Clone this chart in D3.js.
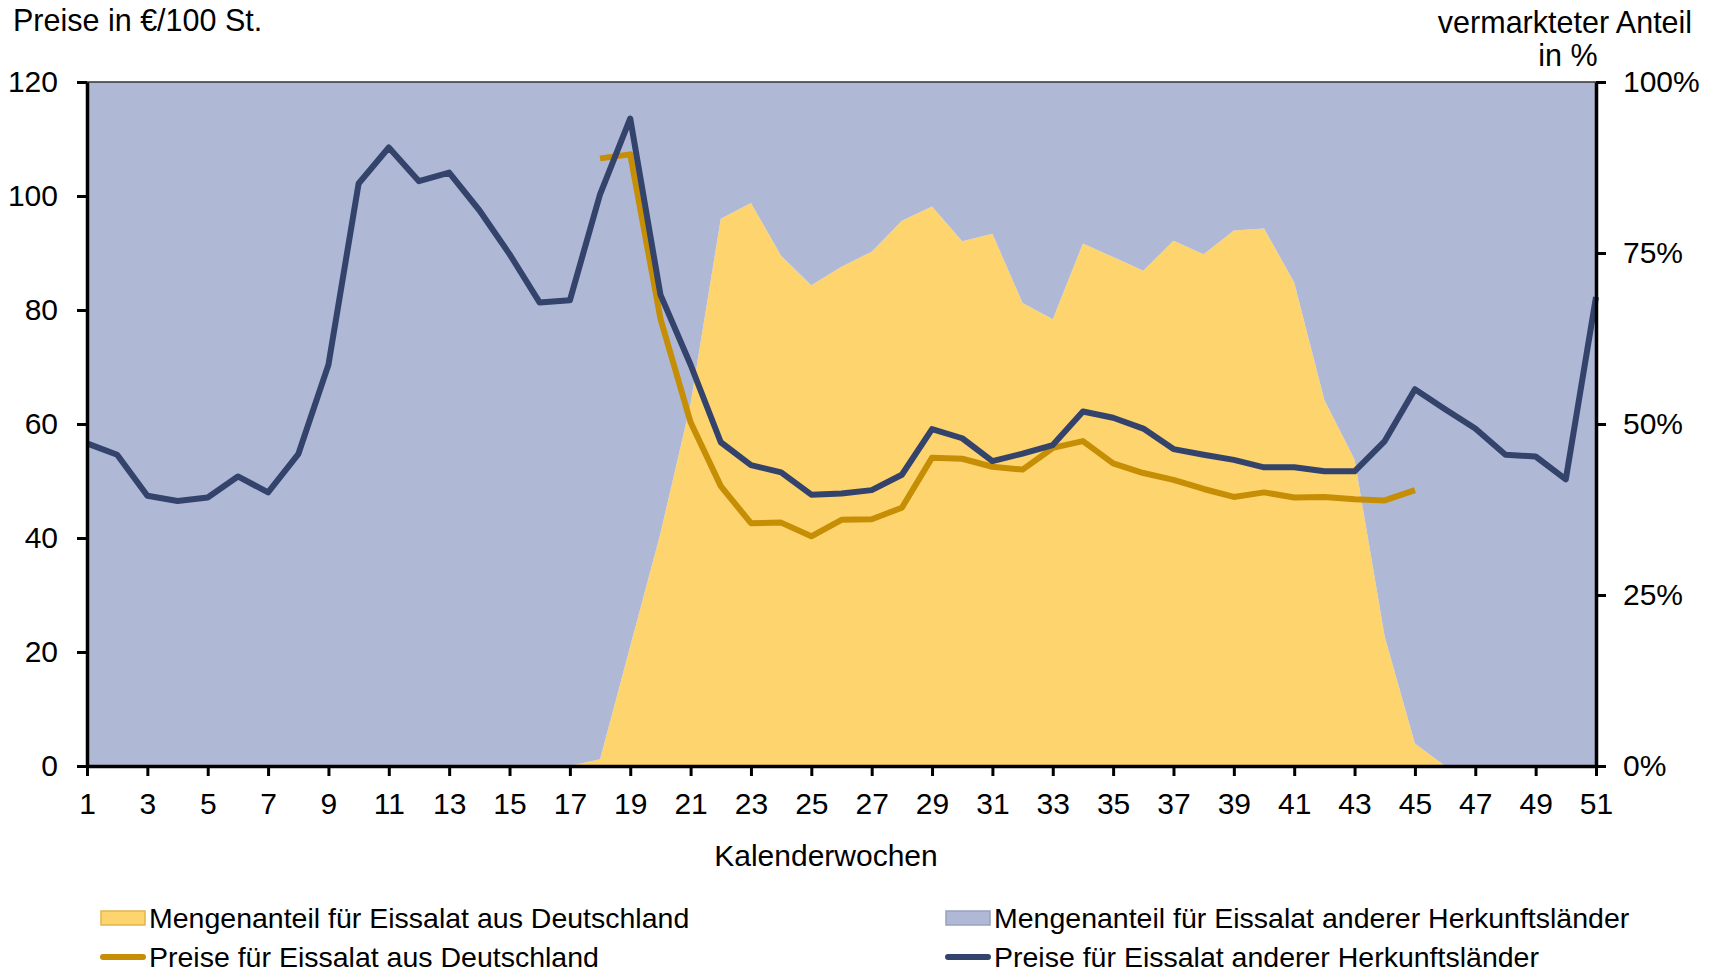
<!DOCTYPE html>
<html>
<head>
<meta charset="utf-8">
<script src="https://cdn.jsdelivr.net/npm/d3@7"></script>
<style>
    body { margin: 0; background: #fff; }
    text { font-family: "Liberation Sans", Arial, sans-serif; fill: #000; }
</style>
</head>
<body>
<div id="container"></div>
<script>
// Kalenderwochen
let weeks = [1, 2, 3, 4, 5, 6, 7, 8, 9, 10, 11, 12, 13, 14, 15, 16, 17, 18, 19, 20,
    21, 22, 23, 24, 25, 26, 27, 28, 29, 30, 31, 32, 33, 34, 35, 36, 37, 38, 39, 40,
    41, 42, 43, 44, 45, 46, 47, 48, 49, 50, 51]

// Preise in €/100 St.
let priceOther = [56.6, 54.6, 47.4, 46.5, 47.1, 50.8, 48.0, 54.7, 70.4, 102.2,
    108.5, 102.6, 104.1, 97.5, 89.8, 81.3, 81.7, 100.3, 113.6, 82.7,
    70.4, 56.8, 52.8, 51.5, 47.6, 47.8, 48.4, 51.1, 59.1, 57.5,
    53.5, 54.8, 56.3, 62.2, 61.1, 59.2, 55.6, 54.6, 53.7, 52.4,
    52.4, 51.7, 51.7, 57.0, 66.1, 62.6, 59.2, 54.6, 54.3, 50.3, 82.3]

let priceDE = [null, null, null, null, null, null, null, null, null, null,
    null, null, null, null, null, null, null, 106.6, 107.3, 78.5,
    60.3, 49.1, 42.6, 42.7, 40.3, 43.2, 43.3, 45.3, 54.1, 53.9,
    52.5, 52.0, 55.8, 57.0, 53.1, 51.4, 50.2, 48.6, 47.2, 48.0,
    47.1, 47.2, 46.8, 46.6, 48.4, null, null, null, null, null, null]

// vermarkteter Anteil in %
let shareDE = [0, 0, 0, 0, 0, 0, 0, 0, 0, 0,
    0, 0, 0, 0, 0, 0, 0, 1.0, 17.5, 34.0,
    53.0, 80.0, 82.3, 74.6, 70.3, 73.0, 75.2, 79.7, 81.8, 76.7,
    77.8, 67.7, 65.3, 76.4, 74.4, 72.4, 76.8, 74.8, 78.3, 78.6,
    70.7, 53.5, 44.8, 18.9, 3.3, 0, 0, 0, 0, 0, 0]

let shareOther = [100, 100, 100, 100, 100, 100, 100, 100, 100, 100,
    100, 100, 100, 100, 100, 100, 100, 99.0, 82.5, 66.0,
    47.0, 20.0, 17.7, 25.4, 29.7, 27.0, 24.8, 20.3, 18.2, 23.3,
    22.2, 32.3, 34.7, 23.6, 25.6, 27.6, 23.2, 25.2, 21.7, 21.4,
    29.3, 46.5, 55.2, 81.1, 96.7, 100, 100, 100, 100, 100, 100]

let xTicks = [1, 3, 5, 7, 9, 11, 13, 15, 17, 19, 21, 23, 25, 27, 29, 31, 33, 35, 37, 39, 41, 43, 45, 47, 49, 51]
let leftTicks = [0, 20, 40, 60, 80, 100, 120]
let rightTicks = [0, 25, 50, 75, 100]

let legendItems = [
    {label: "Mengenanteil für Eissalat aus Deutschland", type: "area", color: "#FDD46E", stroke: "#E2B54A", col: 0, row: 0},
    {label: "Mengenanteil für Eissalat anderer Herkunftsländer", type: "area", color: "#AFB9D6", stroke: "#9AA3BD", col: 1, row: 0},
    {label: "Preise für Eissalat aus Deutschland", type: "line", color: "#C68E05", col: 0, row: 1},
    {label: "Preise für Eissalat anderer Herkunftsländer", type: "line", color: "#34436B", col: 1, row: 1}
]

function drawChart() {
    let width = 1714
    let height = 972
    let margin = {top: 82, right: 118, bottom: 206, left: 87}

    let rows = weeks.map((w, i) => ({
        week: w,
        de: shareDE[i],
        other: shareOther[i],
        pDE: priceDE[i],
        pOther: priceOther[i]
    }))

    let svg = d3.select("#container")
        .append("svg")
        .attr("width", width)
        .attr("height", height)
        .attr("viewBox", [0, 0, width, height])

    let x = d3.scaleLinear()
        .domain([1, 51])
        .range([margin.left, width - margin.right])

    let yL = d3.scaleLinear()
        .domain([0, 120])
        .range([height - margin.bottom, margin.top])

    let yR = d3.scaleLinear()
        .domain([0, 100])
        .range([height - margin.bottom, margin.top])

    // Mengenanteile (gestapelt)
    let stack = d3.stack().keys(["de", "other"])(rows)
    let areaColors = {de: "#FDD46E", other: "#AFB9D6"}

    let area = d3.area()
        .x(d => x(d.data.week))
        .y0(d => yR(d[0]))
        .y1(d => yR(d[1]))

    svg.append("g")
        .selectAll("path")
        .data(stack)
        .join("path")
            .attr("fill", d => areaColors[d.key])
            .attr("d", area)

    // Preise
    let line = key => d3.line()
        .defined(d => d[key] != null)
        .x(d => x(d.week))
        .y(d => yL(d[key]))

    svg.append("path")
        .datum(rows)
        .attr("fill", "none")
        .attr("stroke", "#C68E05")
        .attr("stroke-width", 6)
        .attr("stroke-linejoin", "round")
        .attr("d", line("pDE"))

    svg.append("path")
        .datum(rows)
        .attr("fill", "none")
        .attr("stroke", "#34436B")
        .attr("stroke-width", 6)
        .attr("stroke-linejoin", "round")
        .attr("d", line("pOther"))

    // top border
    svg.append("line")
        .attr("x1", x(1)).attr("x2", x(51))
        .attr("y1", yL(120)).attr("y2", yL(120))
        .attr("stroke", "#333")
        .attr("stroke-width", 1.5)

    let styleAxis = g => {
        g.selectAll(".domain").attr("stroke", "#000").attr("stroke-width", 3.5)
        g.selectAll(".tick line").attr("stroke", "#000").attr("stroke-width", 3)
        g.selectAll("text").attr("font-size", 30).attr("font-family", "Liberation Sans, Arial, sans-serif")
    }

    svg.append("g")
        .attr("transform", `translate(${margin.left},0)`)
        .call(d3.axisLeft(yL).tickValues(leftTicks).tickSize(10).tickSizeOuter(0).tickPadding(19))
        .call(styleAxis)

    svg.append("g")
        .attr("transform", `translate(${width - margin.right},0)`)
        .call(d3.axisRight(yR).tickValues(rightTicks).tickSize(10).tickSizeOuter(0).tickPadding(17)
            .tickFormat(d => d + "%"))
        .call(styleAxis)

    svg.append("g")
        .attr("transform", `translate(0,${height - margin.bottom})`)
        .call(d3.axisBottom(x).tickValues(xTicks).tickSize(10).tickSizeOuter(0).tickPadding(17)
            .tickFormat(d3.format("d")))
        .call(styleAxis)

    // titles
    svg.append("text")
        .attr("x", 13).attr("y", 31)
        .attr("font-size", 30.5)
        .text("Preise in €/100 St.")

    svg.append("text")
        .attr("x", 1565).attr("y", 33)
        .attr("font-size", 30.5)
        .attr("text-anchor", "middle")
        .text("vermarkteter Anteil")

    svg.append("text")
        .attr("x", 1568).attr("y", 66)
        .attr("font-size", 30.5)
        .attr("text-anchor", "middle")
        .text("in %")

    svg.append("text")
        .attr("x", 826).attr("y", 866)
        .attr("font-size", 30)
        .attr("text-anchor", "middle")
        .text("Kalenderwochen")

    // legend
    let colX = [100, 945]
    let rowY = [918, 957]

    let legend = svg.append("g")
        .selectAll("g")
        .data(legendItems)
        .join("g")
            .attr("transform", d => `translate(${colX[d.col]},${rowY[d.row]})`)

    legend.filter(d => d.type == "area")
        .append("rect")
        .attr("x", 1).attr("y", -7)
        .attr("width", 44).attr("height", 14)
        .attr("fill", d => d.color)
        .attr("stroke", d => d.stroke)
        .attr("stroke-width", 1.5)

    legend.filter(d => d.type == "line")
        .append("line")
        .attr("x1", 3).attr("x2", 43)
        .attr("y1", 0).attr("y2", 0)
        .attr("stroke", d => d.color)
        .attr("stroke-width", 6)
        .attr("stroke-linecap", "round")

    legend.append("text")
        .attr("x", 49)
        .attr("y", 10)
        .attr("font-size", 28.5)
        .text(d => d.label)

    return svg.node()
}

drawChart()
</script>
</body>
</html>
